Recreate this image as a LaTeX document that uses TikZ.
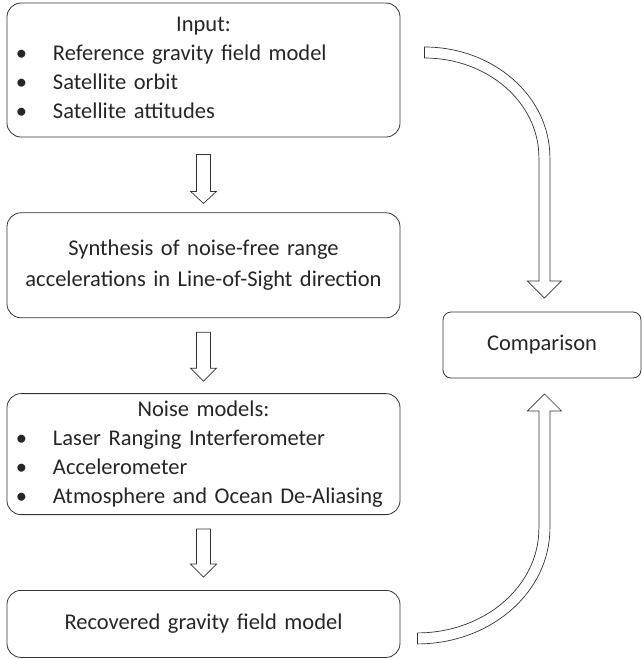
\documentclass[tikz,border=0pt]{standalone}
\usepackage{fontspec}
\setmainfont{Carlito}
\usetikzlibrary{positioning,calc}

\newcommand{\bul}[1]{\par\noindent\makebox[31pt][l]{\hspace{-6pt}\textbullet}#1}

\begin{document}
\begin{tikzpicture}[x=1pt,y=1pt,node distance=75pt,
    every node/.style={font=\fontsize{22.5}{29}\selectfont,text=black!85},
    box/.style={draw=black!80,line width=0.8pt,rounded corners=14pt,text width=363pt,inner xsep=15pt},
    bigarr/.style={draw=black!80,line width=0.7pt,fill=white}]
  \useasboundingbox (0,0) rectangle (642,-659);
  \node[box,align=left,minimum height=134pt] (input) at (203.5,-70) {{\centering Input:\par}\bul{Reference gravity field model}\bul{Satellite orbit}\bul{Satellite attitudes}\par\vspace{5pt}};
  \node[box,align=center,minimum height=105pt,below=of input] (synth) {Synthesis of noise-free range\\[2pt]accelerations in Line-of-Sight direction};
  \node[box,align=left,minimum height=121pt,below=of synth] (noise) {{\centering Noise models:\par}\bul{Laser Ranging Interferometer}\bul{Accelerometer}\bul{Atmosphere and Ocean De-Aliasing}};
  \node[box,align=center,minimum height=67pt,below=of noise] (recov) {Recovered gravity field model};
  \node[draw=black!80,line width=0.8pt,rounded corners=8pt,minimum width=198pt,minimum height=66pt] (comp) at (542,-345) {Comparison};
  \draw[bigarr] ($(input.south)+(-7,-17)$) -- ++(14,0) -- ++(0,-37) -- ++(6,0) -- ++(-13,-12) -- ++(-13,12) -- ++(6,0) -- cycle;
  \draw[bigarr] ($(synth.south)+(-7,-14)$) -- ++(14,0) -- ++(0,-36) -- ++(6,0) -- ++(-13,-13) -- ++(-13,13) -- ++(6,0) -- cycle;
  \draw[bigarr] ($(noise.south)+(-7,-14)$) -- ++(14,0) -- ++(0,-35) -- ++(6,0) -- ++(-13,-13) -- ++(-13,13) -- ++(6,0) -- cycle;
  \coordinate (t1) at ($(input.east)+(24,17.5)$);
  \coordinate (t2) at ($(recov.east)+(17,-14.5)$);
  \draw[bigarr] (t1) ++(0,5.5) arc[start angle=90,end angle=0,x radius=125.5pt,y radius=110.5pt] -- ++(0,-123.5) -- ++(11.5,0) -- ++(-17,-17) -- ++(-17,17) -- ++(11.5,0) -- ++(0,123.5) arc[start angle=0,end angle=90,x radius=114.5pt,y radius=99.5pt] -- cycle;
  \draw[bigarr] (t2) ++(0,-5.5) arc[start angle=270,end angle=360,x radius=132.5pt,y radius=115.5pt] -- ++(0,117.5) -- ++(11.5,0) -- ++(-17,17) -- ++(-17,-17) -- ++(11.5,0) -- ++(0,-117.5) arc[start angle=0,end angle=-90,x radius=121.5pt,y radius=104.5pt] -- cycle;
\end{tikzpicture}
\end{document}
